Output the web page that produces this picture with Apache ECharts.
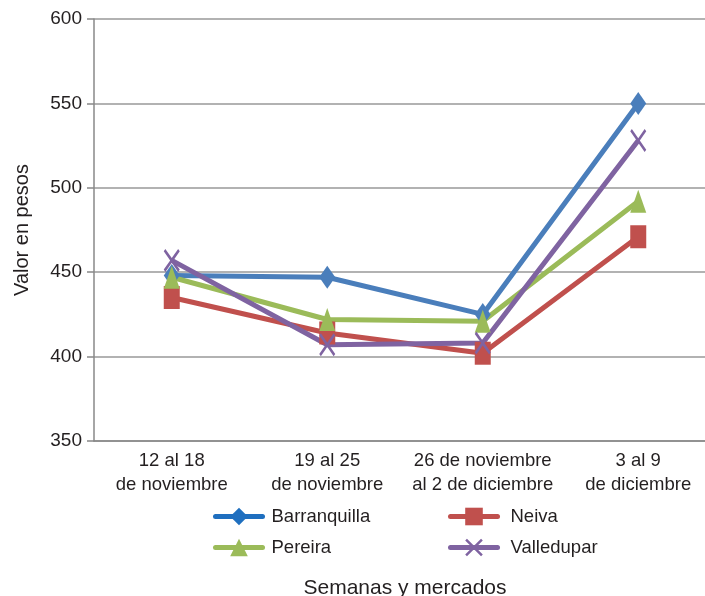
<!DOCTYPE html>
<html>
<head>
<meta charset="utf-8">
<script src="https://cdn.jsdelivr.net/npm/echarts@6/dist/echarts.min.js"></script>
<style>html,body{margin:0;padding:0;background:#fff}#c{width:705px;height:596px}</style>
</head>
<body>
<div id="c"></div>
<script>
const categories = ['12 al 18\nde noviembre', '19 al 25\nde noviembre', '26 de noviembre\nal 2 de diciembre', '3 al 9\nde diciembre'];
const barranquilla = [448, 447, 425, 550];
const neiva = [435, 414, 402, 471];
const pereira = [447, 422, 421, 492];
const valledupar = [457, 407, 408, 528];
const yTicks = { min: 350, max: 600, interval: 50 };

const FONT = "'Liberation Sans', Arial, sans-serif";
const TXT = '#231f20';
const crossPath = 'path://M0,1 L1,0 L5,4 L9,0 L10,1 L6,5 L10,9 L9,10 L5,6 L1,10 L0,9 L4,5 Z';

function mk(name, data, color, symbol) {
  return {
    name: name, type: 'line', data: data,
    symbol: symbol, symbolSize: [16, 23],
    lineStyle: { width: 5, color: color },
    itemStyle: { color: color },
    emphasis: { disabled: true },
    animation: false
  };
}

const legendCommon = {
  orient: 'vertical', top: 507, padding: 0,
  itemWidth: 47, itemHeight: 22, itemGap: 12,
  lineStyle: { width: 5, cap: 'round' }
};

const chart = echarts.init(document.getElementById('c'), null, { renderer: 'canvas' });
chart.setOption({
  backgroundColor: '#fff',
  animation: false,
  grid: { left: 94, top: 19, width: 622, height: 422, containLabel: false, outerBoundsMode: 'none' },
  legend: [
    Object.assign({}, legendCommon, {
      data: [
        { name: 'Barranquilla', itemStyle: { color: '#1f6fbf' }, lineStyle: { color: '#1f6fbf' } },
        'Pereira'
      ],
      left: 213,
      textStyle: { fontFamily: FONT, fontSize: 18.5, color: TXT, padding: [0, 0, 0, 4] }
    }),
    Object.assign({}, legendCommon, {
      data: ['Neiva', 'Valledupar'], left: 448,
      textStyle: { fontFamily: FONT, fontSize: 18.5, color: TXT, padding: [0, 0, 0, 8] }
    })
  ],
  xAxis: {
    type: 'category', data: categories, boundaryGap: true,
    axisLine: { lineStyle: { color: '#888', width: 1.5 } },
    axisTick: { show: false },
    axisLabel: { fontFamily: FONT, fontSize: 18.5, color: TXT, lineHeight: 24, margin: 8, interval: 0 },
    name: 'Semanas y mercados', nameLocation: 'middle', nameGap: 137,
    nameTextStyle: { fontFamily: FONT, fontSize: 21, color: TXT }
  },
  yAxis: {
    type: 'value', min: yTicks.min, max: yTicks.max, interval: yTicks.interval,
    axisLine: { show: true, lineStyle: { color: '#888', width: 1.5 } },
    axisTick: { show: true, length: 7, lineStyle: { color: '#888', width: 1.5 } },
    axisLabel: { fontFamily: FONT, fontSize: 19, color: TXT, margin: 12 },
    splitLine: { lineStyle: { color: '#999', width: 1.5 } },
    name: 'Valor en pesos', nameLocation: 'middle', nameGap: 62, nameRotate: 90,
    nameTextStyle: { fontFamily: FONT, fontSize: 20, color: TXT }
  },
  series: [
    mk('Barranquilla', barranquilla, '#4a7ebb', 'diamond'),
    mk('Neiva', neiva, '#c0504d', 'rect'),
    mk('Pereira', pereira, '#9bbb59', 'triangle'),
    mk('Valledupar', valledupar, '#7f63a1', crossPath)
  ]
});
</script>
</body>
</html>
